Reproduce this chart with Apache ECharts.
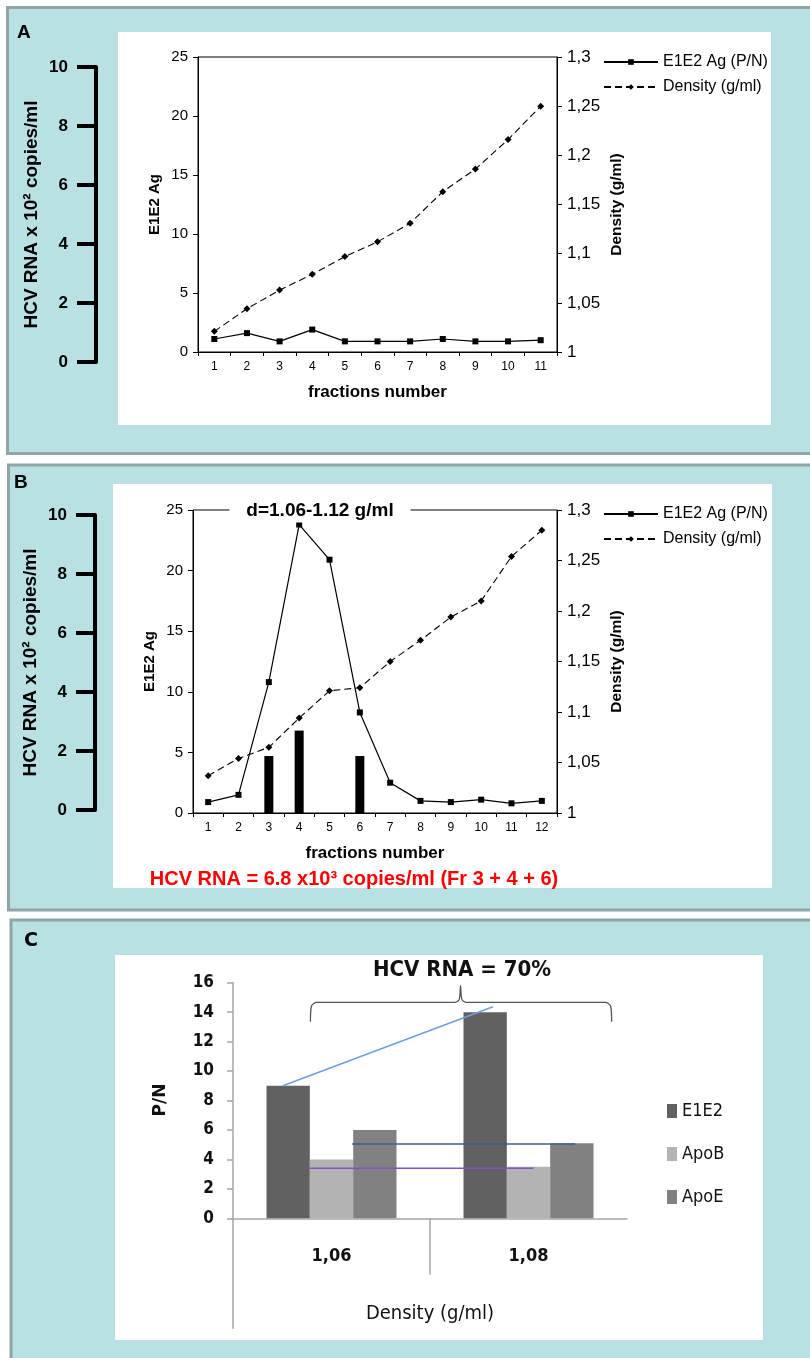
<!DOCTYPE html>
<html><head><meta charset="utf-8">
<script src="https://cdn.jsdelivr.net/npm/echarts@6/dist/echarts.min.js"></script>
<style>html,body{margin:0;padding:0;background:#fff}#c{width:810px;height:1358px}</style>
</head><body><div id="c"></div>
<script>
// ---------- data ----------
const fractionsA = ['1','2','3','4','5','6','7','8','9','10','11'];
const e1e2A = [1.1, 1.6, 0.9, 1.9, 0.9, 0.9, 0.9, 1.1, 0.9, 0.9, 1.0];
const densityA = [1.021, 1.044, 1.063, 1.079, 1.097, 1.112, 1.131, 1.163, 1.186, 1.216, 1.250];

const fractionsB = ['1','2','3','4','5','6','7','8','9','10','11','12'];
const e1e2B = [0.9, 1.5, 10.8, 23.8, 20.9, 8.3, 2.5, 1.0, 0.9, 1.1, 0.8, 1.0];
const densityB = [1.037, 1.054, 1.065, 1.094, 1.121, 1.124, 1.150, 1.171, 1.194, 1.210, 1.254, 1.280];
const hcvRnaB = [null, null, 4.7, 6.8, null, 4.7, null, null, null, null, null, null];

const densityCats = ['1,06', '1,08'];
const e1e2C = [9, 14];
const apoBC = [4, 3.5];
const apoEC = [6, 5.1];
// trend lines in panel C (x in category units: 0..2, y in P/N)
const blueLine = [[0.253, 9.0], [1.32, 14.37]];
const navyLine = [[0.604, 5.05], [1.737, 5.05]];
const purpleLine = [[0.388, 3.4], [1.526, 3.4]];
const bracketC = [[0.393, 13.35], [0.398, 14.4], [0.425, 14.66], [1.125, 14.66], [1.148, 14.85], [1.155, 15.8], [1.162, 14.85], [1.185, 14.66], [1.89, 14.66], [1.917, 14.4], [1.922, 13.35]];
// axis extensions below panel C's baseline (x in category units, y 0..1 of the strip below)
const yAxisTailC = [[0, 1], [0, 0]];
const dividerC = [[1, 1], [1, 0.49]];

// ---------- styling helpers ----------
const ARIAL = "'Liberation Sans', Arial, sans-serif";
const NARROW = "'Liberation Sans Narrow', 'Arial Narrow', 'Liberation Sans', sans-serif";
const CAL = "'DejaVu Sans Condensed', 'DejaVu Sans', sans-serif";
const commaFmt = v => String(Number(v.toFixed(2))).replace('.', ',');
const GREY = '#a6a6a6';

function outerY(grid) {
  return {
    gridIndex: grid, min: 0, max: 10, interval: 2, position: 'left',
    axisLine: {show: true, lineStyle: {color: '#000', width: 4}},
    axisTick: {show: true, length: 19, lineStyle: {color: '#000', width: 4}},
    axisLabel: {margin: 28, fontFamily: ARIAL, fontWeight: 'bold', fontSize: 17, color: '#000'},
    splitLine: {show: false},
    name: 'HCV RNA x 10² copies/ml', nameLocation: 'middle', nameGap: 55, nameRotate: 90,
    nameTextStyle: {fontFamily: ARIAL, fontWeight: 'bold', fontSize: 19, color: '#000'}
  };
}
function innerLeftY(grid) {
  return {
    gridIndex: grid, min: 0, max: 25, interval: 5, position: 'left',
    axisLine: {show: true, lineStyle: {color: '#000', width: 1}},
    axisTick: {show: true, length: 5, lineStyle: {color: '#000'}},
    axisLabel: {margin: 10, fontFamily: ARIAL, fontSize: 15, color: '#000'},
    splitLine: {show: false},
    name: 'E1E2 Ag', nameLocation: 'middle', nameGap: 36, nameRotate: 90,
    nameTextStyle: {fontFamily: ARIAL, fontWeight: 'bold', fontSize: 15, color: '#000'}
  };
}
function innerRightY(grid) {
  return {
    gridIndex: grid, min: 1, max: 1.3, interval: 0.05, position: 'right',
    axisLine: {show: true, lineStyle: {color: '#000', width: 1}},
    axisTick: {show: true, length: 5, lineStyle: {color: '#000'}},
    axisLabel: {margin: 10, fontFamily: NARROW, fontSize: 17, color: '#000', formatter: commaFmt},
    splitLine: {show: false},
    name: 'Density (g/ml)', nameLocation: 'middle', nameGap: 52, nameRotate: 90,
    nameTextStyle: {fontFamily: ARIAL, fontWeight: 'bold', fontSize: 15.5, color: '#000'}
  };
}
function fracX(grid, cats) {
  return {
    type: 'category', gridIndex: grid, data: cats, boundaryGap: true, position: 'bottom',
    axisLine: {show: true, onZero: false, lineStyle: {color: '#000', width: 1}},
    axisTick: {show: true, length: 4, lineStyle: {color: '#000'}},
    axisLabel: {margin: 9, fontFamily: ARIAL, fontSize: 12, color: '#000'},
    name: 'fractions number', nameLocation: 'middle', nameGap: 32,
    nameTextStyle: {fontFamily: ARIAL, fontWeight: 'bold', fontSize: 17, color: '#000'}
  };
}
const hiddenX = g => ({type: 'value', gridIndex: g, min: 0, max: 1, show: false});

const e1e2Style = {type: 'line', symbol: 'rect', symbolSize: 6, color: '#000', lineStyle: {color: '#000', width: 1.2}, itemStyle: {color: '#000'}, z: 5};
const densStyle = {type: 'line', symbol: 'diamond', symbolSize: 7, color: '#000', lineStyle: {color: '#000', width: 1.1, type: [7, 4]}, itemStyle: {color: '#000'}, z: 5};

const legendBase = {
  orient: 'vertical', itemWidth: 54, itemHeight: 7, itemGap: 9,
  textStyle: {fontFamily: NARROW, fontSize: 16, color: '#000'},
  data: ['E1E2 Ag (P/N)', 'Density (g/ml)'], selectedMode: false
};
const gridBase = {outerBoundsMode: 'none', containLabel: false};
const cLine = (data, color, extra) => Object.assign({type: 'line', xAxisIndex: 5, yAxisIndex: 6, data: data, symbol: 'none', lineStyle: {color: color, width: 1.5}, z: 6, silent: true}, extra || {});

const chart = echarts.init(document.getElementById('c'), null, {renderer: 'canvas'});
const option = {
  backgroundColor: '#fff',
  animation: false,
  grid: [
    Object.assign({left: 96, top: 67, width: 1, height: 295}, gridBase),
    Object.assign({left: 198, top: 57, width: 359, height: 295, show: true, borderColor: '#000', borderWidth: 1, backgroundColor: 'transparent'}, gridBase),
    Object.assign({left: 95, top: 515, width: 1, height: 295}, gridBase),
    Object.assign({left: 193, top: 510, width: 364, height: 303, show: true, borderColor: '#000', borderWidth: 1, backgroundColor: 'transparent'}, gridBase),
    Object.assign({left: 233, top: 982.7, width: 394, height: 235.6}, gridBase),
    Object.assign({left: 233, top: 1218.3, width: 394, height: 110.4}, gridBase)
  ],
  xAxis: [
    hiddenX(0),
    fracX(1, fractionsA),
    hiddenX(2),
    fracX(3, fractionsB),
    {
      type: 'category', gridIndex: 4, data: densityCats, position: 'bottom',
      axisLine: {show: true, onZero: false, lineStyle: {color: GREY, width: 1.5}},
      axisTick: {show: false},
      axisLabel: {margin: 29, fontFamily: CAL, fontWeight: 'bold', fontSize: 18, color: '#111'},
      name: 'Density (g/ml)', nameLocation: 'middle', nameGap: 85,
      nameTextStyle: {fontFamily: CAL, fontSize: 20, color: '#111'}
    },
    {type: 'value', gridIndex: 4, min: 0, max: 2, show: false},
    {type: 'value', gridIndex: 5, min: 0, max: 2, show: false}
  ],
  yAxis: [
    outerY(0),
    innerLeftY(1),
    innerRightY(1),
    outerY(2),
    innerLeftY(3),
    innerRightY(3),
    {
      gridIndex: 4, type: 'value', min: 0, max: 16, interval: 2, position: 'left',
      axisLine: {show: true, onZero: false, lineStyle: {color: GREY, width: 1.5}},
      axisTick: {show: true, length: 6, lineStyle: {color: GREY, width: 1.5}},
      axisLabel: {margin: 19, fontFamily: CAL, fontWeight: 'bold', fontSize: 17, color: '#111'},
      splitLine: {show: false}
    },
    {gridIndex: 5, type: 'value', min: 0, max: 1, show: false}
  ],
  legend: [
    Object.assign({}, legendBase, {left: 598, top: 49}),
    Object.assign({}, legendBase, {left: 598, top: 501}),
    {
      orient: 'vertical', left: 662, top: 1097, itemWidth: 10, itemHeight: 14, itemGap: 25, icon: 'rect',
      textStyle: {fontFamily: CAL, fontSize: 18, color: '#111'},
      data: ['E1E2', 'ApoB', 'ApoE'], selectedMode: false
    }
  ],
  series: [
    Object.assign({name: 'E1E2 Ag (P/N)', xAxisIndex: 1, yAxisIndex: 1, data: e1e2A}, e1e2Style),
    Object.assign({name: 'Density (g/ml)', xAxisIndex: 1, yAxisIndex: 2, data: densityA}, densStyle),
    {name: 'HCV RNA', type: 'bar', xAxisIndex: 3, yAxisIndex: 4, data: hcvRnaB, barWidth: 9, itemStyle: {color: '#000'}, z: 3},
    Object.assign({name: 'E1E2 Ag (P/N)', xAxisIndex: 3, yAxisIndex: 4, data: e1e2B}, e1e2Style),
    Object.assign({name: 'Density (g/ml)', xAxisIndex: 3, yAxisIndex: 5, data: densityB}, densStyle),
    {name: 'E1E2', type: 'bar', xAxisIndex: 4, yAxisIndex: 6, data: e1e2C, barGap: '0%', barCategoryGap: '34%', itemStyle: {color: '#616161'}},
    {name: 'ApoB', type: 'bar', xAxisIndex: 4, yAxisIndex: 6, data: apoBC, barGap: '0%', barCategoryGap: '34%', itemStyle: {color: '#b3b3b3'}},
    {name: 'ApoE', type: 'bar', xAxisIndex: 4, yAxisIndex: 6, data: apoEC, barGap: '0%', barCategoryGap: '34%', itemStyle: {color: '#818181'}},
    cLine(blueLine, '#6e9fd9'),
    cLine(navyLine, '#3d5e8e'),
    cLine(purpleLine, '#8b4fc4'),
    cLine(bracketC, '#555', {smooth: 0.3, lineStyle: {color: '#555', width: 1.3}}),
    {type: 'line', xAxisIndex: 6, yAxisIndex: 7, data: yAxisTailC, symbol: 'none', clip: false, silent: true, lineStyle: {color: GREY, width: 1.5}},
    {type: 'line', xAxisIndex: 6, yAxisIndex: 7, data: dividerC, symbol: 'none', clip: false, silent: true, lineStyle: {color: GREY, width: 1.5}}
  ],
  graphic: [
    // panel frames
    {type: 'rect', z: -100, shape: {x: 7.5, y: 7.5, width: 806, height: 446}, style: {fill: '#b9e0e3', stroke: '#8fa5a7', lineWidth: 3}},
    {type: 'rect', z: -100, shape: {x: 8.5, y: 465, width: 806, height: 445}, style: {fill: '#b9e0e3', stroke: '#8fa5a7', lineWidth: 3}},
    {type: 'rect', z: -100, shape: {x: 11, y: 920, width: 806, height: 450}, style: {fill: '#b9e0e3', stroke: '#8fa5a7', lineWidth: 3}},
    {type: 'rect', z: -90, shape: {x: 118, y: 32, width: 653, height: 393}, style: {fill: '#fff'}},
    {type: 'rect', z: -90, shape: {x: 113, y: 484, width: 659, height: 404}, style: {fill: '#fff'}},
    {type: 'rect', z: -90, shape: {x: 115, y: 955, width: 648, height: 385}, style: {fill: '#fff'}},
    // panel letters
    {type: 'text', z: 50, style: {text: 'A', x: 17, y: 33, verticalAlign: 'middle', font: "bold 19px 'Liberation Sans', Arial, sans-serif", fill: '#000'}},
    {type: 'text', z: 50, style: {text: 'B', x: 14, y: 483, verticalAlign: 'middle', font: "bold 19px 'Liberation Sans', Arial, sans-serif", fill: '#000'}},
    {type: 'text', z: 50, style: {text: 'C', x: 24, y: 941, verticalAlign: 'middle', font: "bold 19px 'DejaVu Sans', sans-serif", fill: '#000'}},
    // B title over the top frame line
    {type: 'text', z: 50, style: {text: 'd=1.06-1.12 g/ml', x: 320, y: 511, align: 'center', verticalAlign: 'middle', font: "bold 19px 'Liberation Sans', Arial, sans-serif", fill: '#000', backgroundColor: '#fff', padding: [2, 17]}},
    // B red note
    {type: 'text', z: 50, style: {text: 'HCV RNA = 6.8 x10³ copies/ml (Fr 3 + 4 + 6)', x: 354, y: 879, align: 'center', verticalAlign: 'middle', font: "bold 20px 'Liberation Sans Narrow', 'Arial Narrow', sans-serif", fill: '#ff0000'}},
    // C annotations
    {type: 'text', z: 50, style: {text: 'HCV RNA = 70%', x: 462, y: 970, align: 'center', verticalAlign: 'middle', font: "bold 22px 'DejaVu Sans Condensed', 'DejaVu Sans', sans-serif", fill: '#111'}},
    {type: 'text', z: 50, rotation: Math.PI / 2, x: 161, y: 1100, style: {text: 'P/N', x: 0, y: 0, align: 'center', verticalAlign: 'middle', font: "bold 17px 'DejaVu Sans', sans-serif", fill: '#111'}}
  ]
};
chart.setOption(option);
</script></body></html>
